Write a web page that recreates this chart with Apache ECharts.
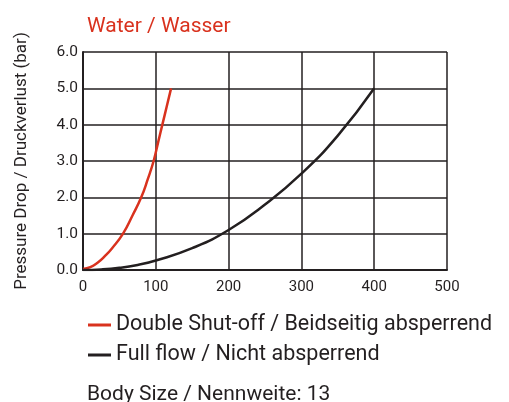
<!DOCTYPE html>
<html>
<head>
<meta charset="utf-8">
<script src="https://cdn.jsdelivr.net/npm/echarts@6/dist/echarts.min.js"></script>
<style>
  html, body { margin: 0; padding: 0; background: #fff; }
  #chart { width: 509px; height: 402px; }
</style>
</head>
<body>
<div id="chart"></div>
<script>
// flow (x) vs pressure drop in bar (y)
const doubleShutOff = [
  [0, 0.03], [10, 0.08], [20, 0.2], [30, 0.38], [40, 0.6], [55, 1.0], [68, 1.5],
  [80, 2.0], [89, 2.5], [97, 3.0], [103, 3.5], [109, 4.0], [115, 4.5], [121, 5.0]
];
const fullFlow = [
  [0, 0], [25, 0.015], [50, 0.06], [75, 0.14], [100, 0.26], [150, 0.6],
  [200, 1.1], [250, 1.8], [300, 2.65], [350, 3.7], [400, 5.0]
];
const seriesNames = ['Double Shut-off / Beidseitig absperrend', 'Full flow / Nicht absperrend'];
const seriesColors = ['#d9321e', '#231f20'];

const font = 'Roboto';
const ink = '#231f20';

const chart = echarts.init(document.getElementById('chart'), null, { renderer: 'canvas' });

chart.setOption({
  backgroundColor: '#ffffff',
  animation: false,
  title: [{
    text: 'Water / Wasser',
    left: 82,
    top: 11,
    textStyle: { color: '#d9321e', fontFamily: font, fontSize: 21, fontWeight: 'normal' }
  }, {
    text: 'Body Size / Nennweite: 13',
    left: 82,
    top: 379,
    textStyle: { color: ink, fontFamily: font, fontSize: 21, fontWeight: 'normal' }
  }],
  legend: {
    orient: 'vertical',
    left: 83,
    top: 309,
    itemWidth: 23,
    itemHeight: 3,
    itemGap: 8,
    icon: 'rect',
    data: seriesNames,
    textStyle: { color: ink, fontFamily: font, fontSize: 21.5 }
  },
  grid: { left: 83, right: 62, top: 52, bottom: 132 },
  xAxis: {
    type: 'value',
    min: 0,
    max: 500,
    interval: 100,
    axisLine: { show: true, lineStyle: { color: ink, width: 2 } },
    axisTick: { show: false },
    axisLabel: { color: ink, fontFamily: font, fontSize: 15, margin: 10 },
    splitLine: { show: true, lineStyle: { color: ink, width: 1.5 } }
  },
  yAxis: {
    type: 'value',
    min: 0,
    max: 6,
    interval: 1,
    name: 'Pressure Drop / Druckverlust (bar)',
    nameLocation: 'middle',
    nameGap: 53,
    nameTextStyle: { color: ink, fontFamily: font, fontSize: 17 },
    axisLine: { show: true, lineStyle: { color: ink, width: 2 } },
    axisTick: { show: false },
    axisLabel: {
      color: ink, fontFamily: font, fontSize: 15.5, margin: 5,
      formatter: v => v.toFixed(1)
    },
    splitLine: { show: true, lineStyle: { color: ink, width: 1.5 } }
  },
  series: [{
    name: seriesNames[0],
    type: 'line',
    smooth: true,
    showSymbol: false,
    data: doubleShutOff,
    itemStyle: { color: seriesColors[0] },
    lineStyle: { color: seriesColors[0], width: 2.5 }
  }, {
    name: seriesNames[1],
    type: 'line',
    smooth: true,
    showSymbol: false,
    data: fullFlow,
    itemStyle: { color: seriesColors[1] },
    lineStyle: { color: seriesColors[1], width: 2.5 }
  }]
});
</script>
</body>
</html>
